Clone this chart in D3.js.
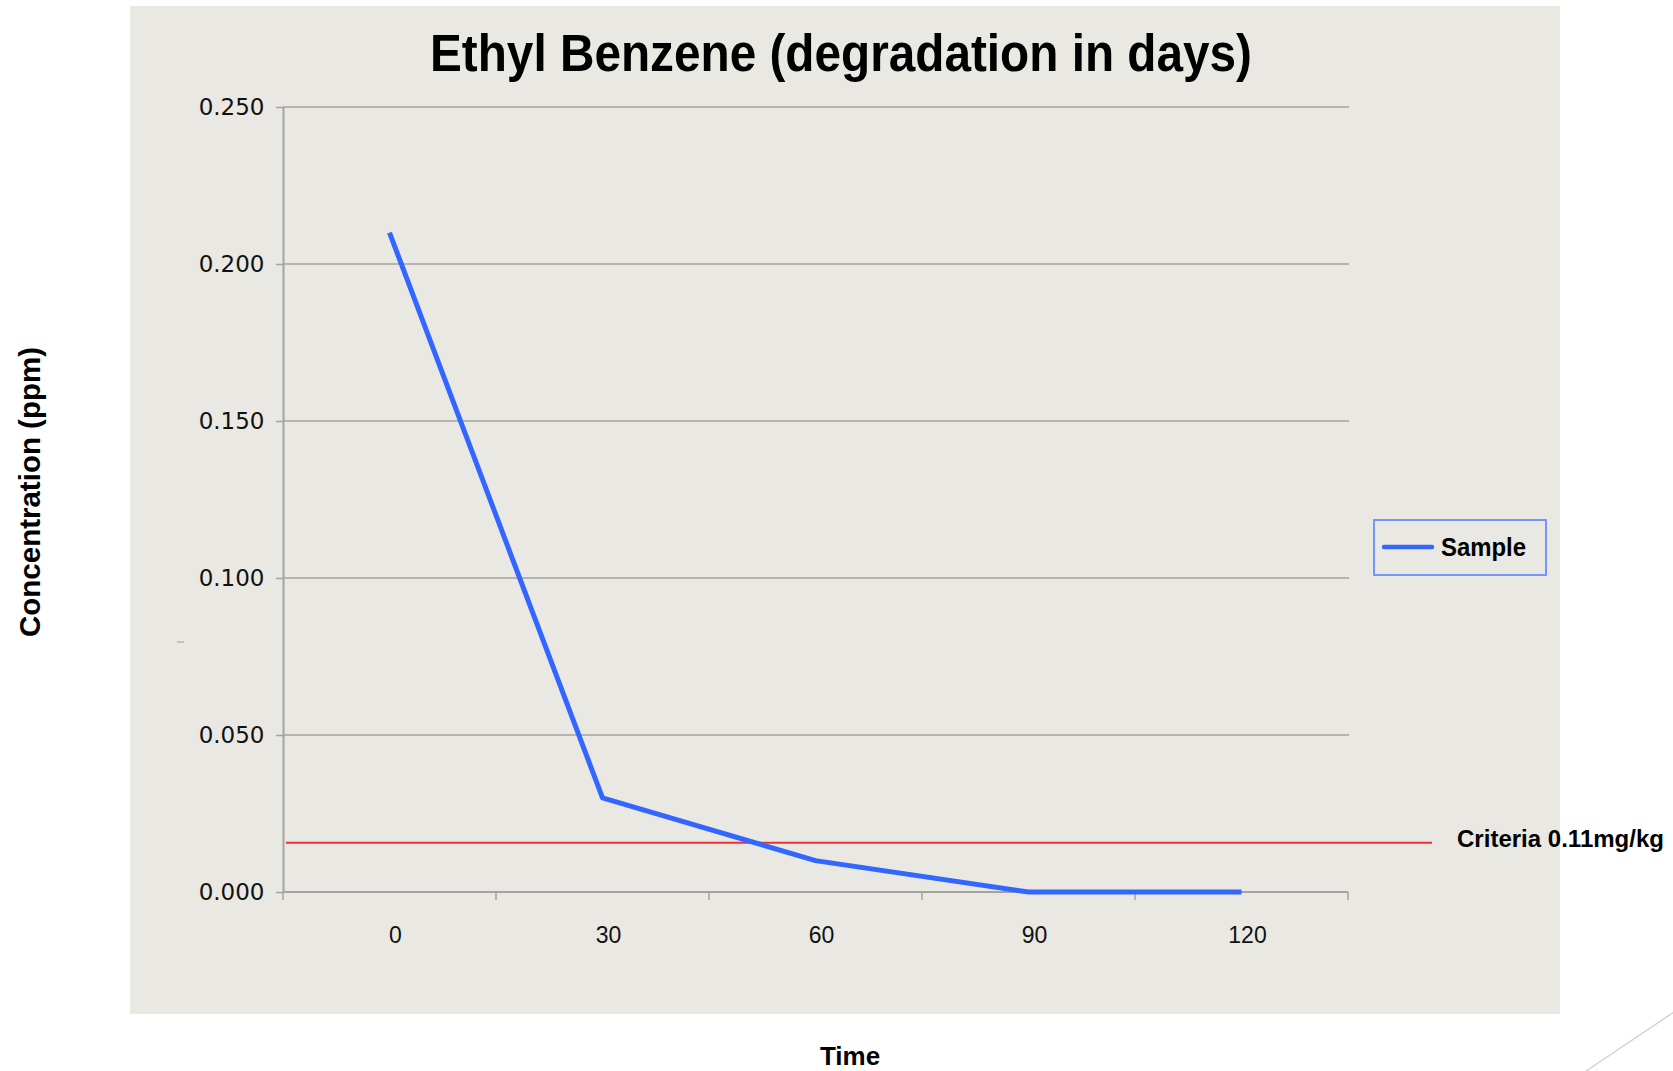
<!DOCTYPE html>
<html>
<head>
<meta charset="utf-8">
<script src="https://cdn.jsdelivr.net/npm/d3@7"></script>
<style>
  body { margin: 0; background: #ffffff; }
  svg { display: block; }
</style>
</head>
<body>
<div id="chart_div"></div>
<script>

// chart data
var days = ["0", "30", "60", "90", "120"];
var sample = [0.21, 0.03, 0.01, 0, 0];
var yTicks = [0, 0.05, 0.1, 0.15, 0.2, 0.25];
var criteriaValue = 0.0157;
var criteriaLabel = "Criteria 0.11mg/kg";

var svg = d3.select("#chart_div").append("svg")
    .attr("width", 1673)
    .attr("height", 1071);

// grey panel
svg.append("rect")
    .attr("x", 130).attr("y", 6)
    .attr("width", 1430).attr("height", 1008)
    .attr("fill", "#e9e8e2");

var x = d3.scaleBand()
    .domain(days)
    .range([283, 1348]);

var y = d3.scaleLinear()
    .domain([0, 0.25])
    .range([892, 107]);

// gridlines
svg.append("g").selectAll("line")
    .data(yTicks.slice(1))
    .enter().append("line")
    .attr("x1", 283).attr("x2", 1349)
    .attr("y1", function (d) { return y(d); })
    .attr("y2", function (d) { return y(d); })
    .attr("stroke", "#a3a3a1")
    .attr("stroke-width", 1.5);

// y axis
var yAxis = svg.append("g")
    .attr("transform", "translate(283,0)")
    .call(d3.axisLeft(y).tickValues(yTicks).tickFormat(d3.format(".3f")).tickSize(7).tickSizeOuter(0));
yAxis.select(".domain").attr("stroke", "#a3a3a1").attr("stroke-width", 2);
yAxis.selectAll(".tick line").attr("stroke", "#a3a3a1").attr("stroke-width", 1.5);
yAxis.selectAll(".tick text")
    .attr("x", -18.5)
    .attr("dy", "0.32em")
    .attr("font-family", "DejaVu Sans")
    .attr("font-size", 23)
    .attr("fill", "#111");

// x axis line + ticks at band edges
svg.append("line")
    .attr("x1", 283).attr("x2", 1348)
    .attr("y1", y(0)).attr("y2", y(0))
    .attr("stroke", "#a3a3a1").attr("stroke-width", 2);

var edges = d3.range(days.length + 1).map(function (i) {
    return x.range()[0] + i * x.step();
});
svg.append("g").selectAll("line")
    .data(edges)
    .enter().append("line")
    .attr("x1", function (d) { return d; })
    .attr("x2", function (d) { return d; })
    .attr("y1", y(0)).attr("y2", y(0) + 8)
    .attr("stroke", "#a3a3a1").attr("stroke-width", 1.5);

var xAxis = svg.append("g")
    .attr("transform", "translate(6," + y(0) + ")")
    .call(d3.axisBottom(x).tickSize(0));
xAxis.select(".domain").remove();
xAxis.selectAll(".tick text")
    .attr("y", 51)
    .attr("dy", 0)
    .attr("font-family", "Liberation Sans")
    .attr("font-size", 23)
    .attr("fill", "#111");

// criteria line
svg.append("line")
    .attr("x1", 286).attr("x2", 1432)
    .attr("y1", y(criteriaValue)).attr("y2", y(criteriaValue))
    .attr("stroke", "#f03030").attr("stroke-width", 2);

svg.append("text")
    .attr("x", 1457).attr("y", y(criteriaValue) + 4)
    .attr("font-family", "Liberation Sans")
    .attr("font-weight", "bold")
    .attr("font-size", 24)
    .attr("textLength", 207)
    .attr("lengthAdjust", "spacingAndGlyphs")
    .text(criteriaLabel);

// sample line
var line = d3.line()
    .x(function (d, i) { return x(days[i]) + x.bandwidth() / 2; })
    .y(function (d) { return y(d); });

svg.append("path")
    .datum(sample)
    .attr("d", line)
    .attr("fill", "none")
    .attr("stroke", "#3366ff")
    .attr("stroke-width", 5)
    .attr("stroke-linejoin", "round");

// legend
svg.append("rect")
    .attr("x", 1374).attr("y", 520)
    .attr("width", 172).attr("height", 55)
    .attr("fill", "none")
    .attr("stroke", "#6a8cff")
    .attr("stroke-width", 1.8);
svg.append("line")
    .attr("x1", 1384).attr("x2", 1432)
    .attr("y1", 547).attr("y2", 547)
    .attr("stroke", "#3366ff")
    .attr("stroke-width", 4.5)
    .attr("stroke-linecap", "round");
svg.append("text")
    .attr("x", 1441).attr("y", 556)
    .attr("font-family", "Liberation Sans")
    .attr("font-weight", "bold")
    .attr("font-size", 25)
    .attr("textLength", 85)
    .attr("lengthAdjust", "spacingAndGlyphs")
    .text("Sample");

// title
svg.append("text")
    .attr("x", 841).attr("y", 71)
    .attr("text-anchor", "middle")
    .attr("font-family", "Liberation Sans")
    .attr("font-weight", "bold")
    .attr("font-size", 51)
    .attr("textLength", 822)
    .attr("lengthAdjust", "spacingAndGlyphs")
    .text("Ethyl Benzene (degradation in days)");

// axis titles
svg.append("text")
    .attr("transform", "translate(40,492) rotate(-90)")
    .attr("text-anchor", "middle")
    .attr("font-family", "Liberation Sans")
    .attr("font-weight", "bold")
    .attr("font-size", 29.5)
    .text("Concentration (ppm)");

svg.append("text")
    .attr("x", 850).attr("y", 1065)
    .attr("text-anchor", "middle")
    .attr("font-family", "Liberation Sans")
    .attr("font-weight", "bold")
    .attr("font-size", 26)
    .text("Time");

// stray marks
svg.append("line")
    .attr("x1", 177).attr("x2", 184)
    .attr("y1", 642).attr("y2", 642)
    .attr("stroke", "#999").attr("stroke-width", 1);
svg.append("line")
    .attr("x1", 1586).attr("x2", 1680)
    .attr("y1", 1071).attr("y2", 1008)
    .attr("stroke", "#d4d4d4").attr("stroke-width", 1.5);

</script>
</body>
</html>
